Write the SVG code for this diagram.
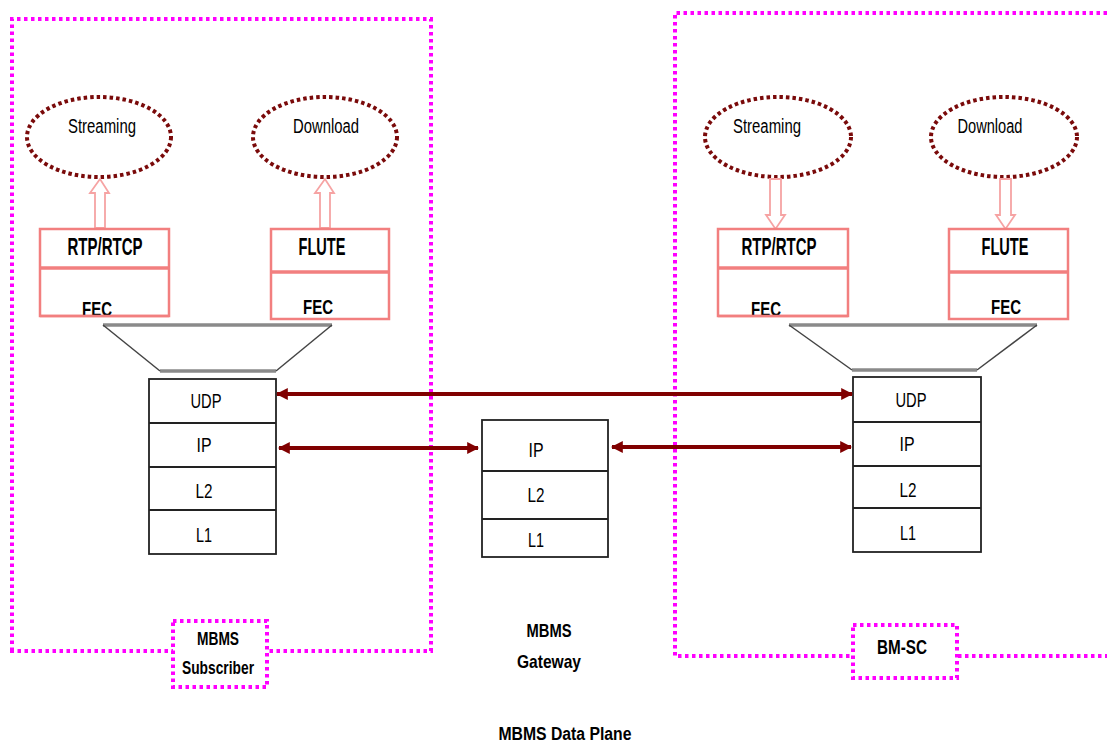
<svg xmlns="http://www.w3.org/2000/svg" width="1107" height="744" viewBox="0 0 1107 744">
  <style>
    .lbl { font-family: "Liberation Sans Narrow", "Liberation Sans", Arial, sans-serif; fill: #000; text-anchor: middle; }
    .app-t { font-size: 20px; }
    .layer-t { font-size: 21px; }
    .proto-t { font-size: 24px; font-weight: bold; }
    .fec-t { font-size: 21px; font-weight: bold; }
    .name-t { font-size: 18px; font-weight: bold; }
    .domain { fill: none; stroke: #ff00ff; stroke-width: 4; stroke-dasharray: 3.5 3.5; }
    .tag { fill: #fff; stroke: #ff00ff; stroke-width: 4; stroke-dasharray: 3.5 3.5; }
    .app { fill: none; stroke: #7a0a0a; stroke-width: 4; stroke-dasharray: 3.5 3; }
    .proto { fill: #fff; stroke: #f27f7f; stroke-width: 2.5; }
    .split { stroke: #f27f7f; stroke-width: 3.5; }
    .edge { stroke: #f27f7f; stroke-width: 2.5; }
    .hollow { fill: #fff; stroke: #f6a3a3; stroke-width: 1.8; }
    .funnel-edge { stroke: #8a8a8a; stroke-width: 3.5; }
    .funnel-side { stroke: #444; stroke-width: 1.5; }
    .layer { fill: #fff; stroke: #222; stroke-width: 1.8; }
    .layer-sep { stroke: #222; stroke-width: 1.8; }
    .link { stroke: #800000; stroke-width: 4; fill: none; }
  </style>
  <defs>
    <marker id="tip" viewBox="0 0 10 10" refX="9" refY="5" markerWidth="3" markerHeight="3.2" orient="auto-start-reverse" markerUnits="strokeWidth">
      <path d="M0,0 L10,5 L0,10 Z" fill="#800000"/>
    </marker>
  </defs>

  <!-- MBMS Subscriber domain -->
  <g id="subscriber">
    <path class="domain" d="M12,651 L12,19 L431,19 L431,651 Z"/>
    <g id="sub-streaming">
      <ellipse class="app" cx="99" cy="137" rx="72" ry="40"/>
      <text class="lbl app-t" x="102" y="133" textLength="68" lengthAdjust="spacingAndGlyphs">Streaming</text>
    </g>
    <g id="sub-download">
      <ellipse class="app" cx="325" cy="137" rx="72" ry="40"/>
      <text class="lbl app-t" x="326" y="133" textLength="66" lengthAdjust="spacingAndGlyphs">Download</text>
    </g>
    <!-- upward hollow arrows -->
    <path class="hollow" d="M95,228 L95,193 L90,193 L100,179 L109,193 L105,193 L105,228 Z"/>
    <path class="hollow" d="M320,228 L320,193 L315,193 L325,179 L334,193 L330,193 L330,228 Z"/>
    <g id="sub-rtp">
      <rect class="proto" x="40" y="229" width="129" height="87"/>
      <line class="split" x1="40" y1="268" x2="169" y2="268"/>
      <text class="lbl proto-t" x="105" y="255" textLength="75" lengthAdjust="spacingAndGlyphs">RTP/RTCP</text>
      <text class="lbl fec-t" x="97" y="316" textLength="30" lengthAdjust="spacingAndGlyphs">FEC</text>
      <line class="edge" x1="40" y1="316" x2="169" y2="316"/>
    </g>
    <g id="sub-flute">
      <rect class="proto" x="271" y="229" width="118" height="90"/>
      <line class="split" x1="271" y1="272" x2="389" y2="272"/>
      <text class="lbl proto-t" x="322" y="255" textLength="47" lengthAdjust="spacingAndGlyphs">FLUTE</text>
      <text class="lbl fec-t" x="318" y="314" textLength="30" lengthAdjust="spacingAndGlyphs">FEC</text>
    </g>
    <g id="sub-funnel">
      <line class="funnel-edge" x1="103" y1="325" x2="332" y2="325"/>
      <line class="funnel-edge" x1="160" y1="371" x2="276" y2="371"/>
      <line class="funnel-side" x1="103" y1="325" x2="160" y2="371"/>
      <line class="funnel-side" x1="332" y1="325" x2="276" y2="371"/>
    </g>
    <g id="sub-stack">
      <rect class="layer" x="149" y="379" width="127" height="175"/>
      <line class="layer-sep" x1="149" y1="423" x2="276" y2="423"/>
      <line class="layer-sep" x1="149" y1="467" x2="276" y2="467"/>
      <line class="layer-sep" x1="149" y1="510" x2="276" y2="510"/>
      <text class="lbl layer-t" x="206" y="408" textLength="31" lengthAdjust="spacingAndGlyphs">UDP</text>
      <text class="lbl layer-t" x="204" y="452" textLength="15" lengthAdjust="spacingAndGlyphs">IP</text>
      <text class="lbl layer-t" x="204" y="498" textLength="17" lengthAdjust="spacingAndGlyphs">L2</text>
      <text class="lbl layer-t" x="204" y="542" textLength="16" lengthAdjust="spacingAndGlyphs">L1</text>
    </g>
    <g id="sub-tag">
      <rect class="tag" x="173" y="621" width="94" height="66"/>
      <text class="lbl name-t" x="218" y="645" textLength="42" lengthAdjust="spacingAndGlyphs">MBMS</text>
      <text class="lbl name-t" x="218" y="674" textLength="72" lengthAdjust="spacingAndGlyphs">Subscriber</text>
    </g>
  </g>

  <!-- BM-SC domain -->
  <g id="bmsc">
    <path class="domain" d="M1107,13 L675,13 L675,656 L1107,656"/>
    <g id="bm-streaming">
      <ellipse class="app" cx="778" cy="137" rx="73" ry="40"/>
      <text class="lbl app-t" x="767" y="133" textLength="68" lengthAdjust="spacingAndGlyphs">Streaming</text>
    </g>
    <g id="bm-download">
      <ellipse class="app" cx="1004" cy="137" rx="73" ry="40"/>
      <text class="lbl app-t" x="990" y="133" textLength="65" lengthAdjust="spacingAndGlyphs">Download</text>
    </g>
    <!-- downward hollow arrows -->
    <path class="hollow" d="M770,179 L770,215 L766,215 L775.5,229 L785,215 L781,215 L781,179 Z"/>
    <path class="hollow" d="M1000,179 L1000,215 L996,215 L1005.5,229 L1015,215 L1011,215 L1011,179 Z"/>
    <g id="bm-rtp">
      <rect class="proto" x="718" y="229" width="130" height="87"/>
      <line class="split" x1="718" y1="268" x2="848" y2="268"/>
      <text class="lbl proto-t" x="779" y="255" textLength="75" lengthAdjust="spacingAndGlyphs">RTP/RTCP</text>
      <text class="lbl fec-t" x="766" y="316" textLength="30" lengthAdjust="spacingAndGlyphs">FEC</text>
      <line class="edge" x1="718" y1="316" x2="848" y2="316"/>
    </g>
    <g id="bm-flute">
      <rect class="proto" x="949" y="229" width="119" height="90"/>
      <line class="split" x1="949" y1="272" x2="1068" y2="272"/>
      <text class="lbl proto-t" x="1005" y="255" textLength="47" lengthAdjust="spacingAndGlyphs">FLUTE</text>
      <text class="lbl fec-t" x="1006" y="314" textLength="30" lengthAdjust="spacingAndGlyphs">FEC</text>
    </g>
    <g id="bm-funnel">
      <line class="funnel-edge" x1="789" y1="325" x2="1037" y2="325"/>
      <line class="funnel-edge" x1="852" y1="370" x2="977" y2="370"/>
      <line class="funnel-side" x1="789" y1="325" x2="852" y2="370"/>
      <line class="funnel-side" x1="1037" y1="325" x2="977" y2="370"/>
    </g>
    <g id="bm-stack">
      <rect class="layer" x="853" y="377" width="128" height="175"/>
      <line class="layer-sep" x1="853" y1="422" x2="981" y2="422"/>
      <line class="layer-sep" x1="853" y1="466" x2="981" y2="466"/>
      <line class="layer-sep" x1="853" y1="508" x2="981" y2="508"/>
      <text class="lbl layer-t" x="911" y="407" textLength="31" lengthAdjust="spacingAndGlyphs">UDP</text>
      <text class="lbl layer-t" x="907" y="451" textLength="15" lengthAdjust="spacingAndGlyphs">IP</text>
      <text class="lbl layer-t" x="908" y="497" textLength="17" lengthAdjust="spacingAndGlyphs">L2</text>
      <text class="lbl layer-t" x="908" y="540" textLength="16" lengthAdjust="spacingAndGlyphs">L1</text>
    </g>
    <g id="bm-tag">
      <rect class="tag" x="853" y="625" width="104" height="53"/>
      <text class="lbl name-t" x="902" y="654" style="font-size:21px" textLength="50" lengthAdjust="spacingAndGlyphs">BM-SC</text>
    </g>
  </g>

  <!-- MBMS Gateway -->
  <g id="gateway">
    <rect class="layer" x="482" y="420" width="126" height="137"/>
    <line class="layer-sep" x1="482" y1="471" x2="608" y2="471"/>
    <line class="layer-sep" x1="482" y1="519" x2="608" y2="519"/>
    <text class="lbl layer-t" x="536" y="457" textLength="15" lengthAdjust="spacingAndGlyphs">IP</text>
    <text class="lbl layer-t" x="536" y="502" textLength="17" lengthAdjust="spacingAndGlyphs">L2</text>
    <text class="lbl layer-t" x="536" y="547" textLength="16" lengthAdjust="spacingAndGlyphs">L1</text>
    <text class="lbl name-t" x="549" y="637" style="font-size:19px" textLength="45" lengthAdjust="spacingAndGlyphs">MBMS</text>
    <text class="lbl name-t" x="549" y="668" style="font-size:19px" textLength="64" lengthAdjust="spacingAndGlyphs">Gateway</text>
  </g>

  <!-- peer links between protocol layers -->
  <g id="connectors">
    <line class="link" x1="277" y1="394" x2="852" y2="394" marker-start="url(#tip)" marker-end="url(#tip)"/>
    <line class="link" x1="279" y1="448" x2="478" y2="448" marker-start="url(#tip)" marker-end="url(#tip)"/>
    <line class="link" x1="612" y1="447" x2="851" y2="447" marker-start="url(#tip)" marker-end="url(#tip)"/>
  </g>

  <text id="caption" class="lbl name-t" x="565" y="740" textLength="133" lengthAdjust="spacingAndGlyphs">MBMS Data Plane</text>
</svg>
